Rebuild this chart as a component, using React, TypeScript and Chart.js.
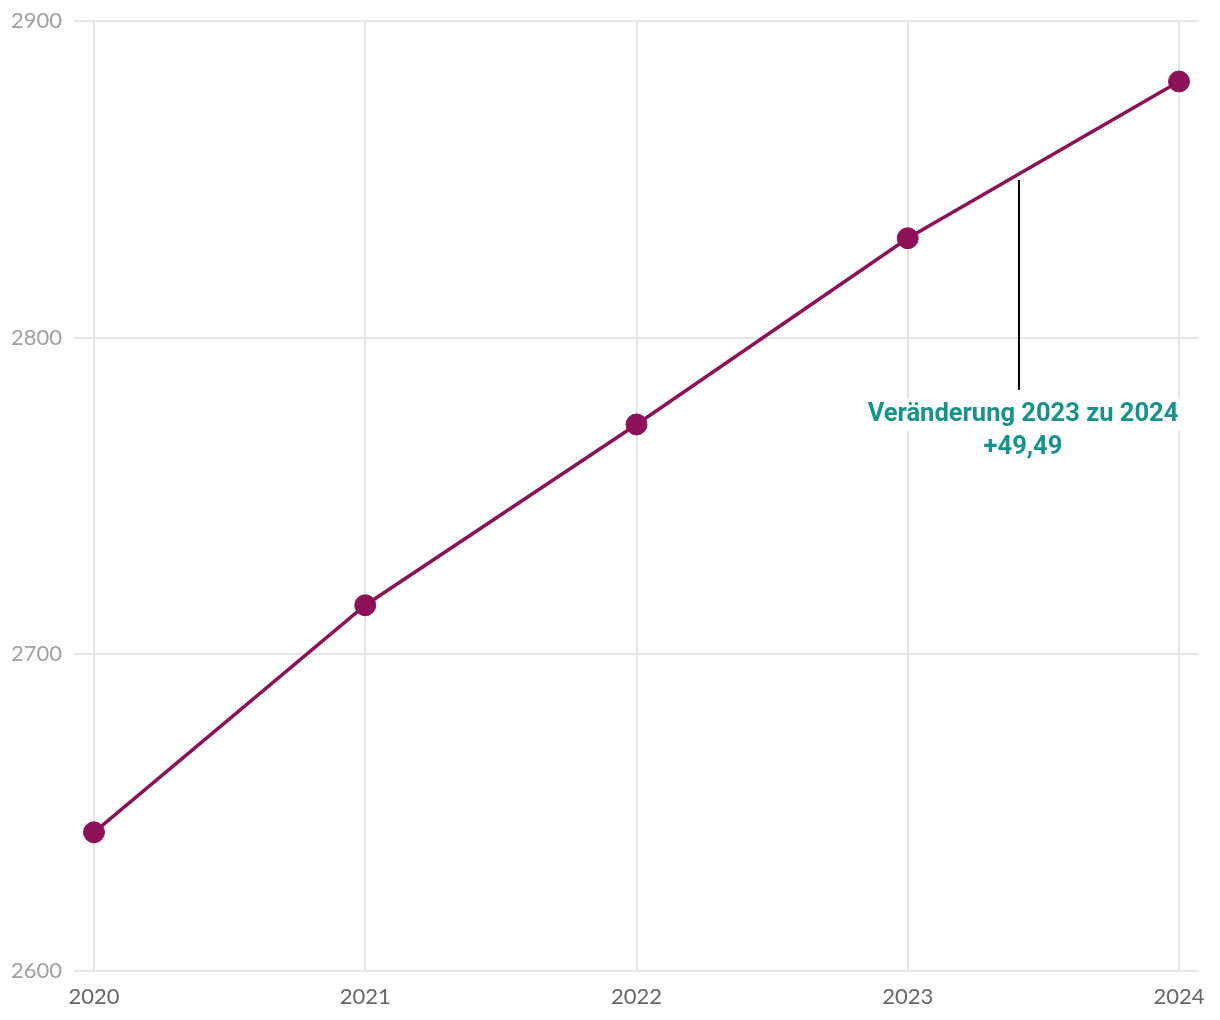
import React, { useEffect, useRef } from "react";
import { Chart, registerables } from "chart.js";

Chart.register(...registerables);

const years: number[] = [2020, 2021, 2022, 2023, 2024];
const values: number[] = [2643.8, 2715.5, 2772.6, 2831.4, 2880.9];
const yTicks: number[] = [2600, 2700, 2800, 2900];
const annotationLines: string[] = ["Veränderung 2023 zu 2024", "+49,49"];
const annotationX = 2023.41;
const annotationTop = 2849.8;
const annotationBottom = 2783.5;

const LINE_COLOR = "#8c1159";
const TEAL = "#16938d";

const annotationPlugin = {
  id: "changeAnnotation",
  afterDatasetsDraw(chart: any) {
    const { ctx, scales } = chart;
    const x = scales.x.getPixelForValue(annotationX);
    const y1 = scales.y.getPixelForValue(annotationTop);
    const y2 = scales.y.getPixelForValue(annotationBottom);
    ctx.save();
    ctx.strokeStyle = "#000000";
    ctx.lineWidth = 2;
    ctx.beginPath();
    ctx.moveTo(x, y1);
    ctx.lineTo(x, y2);
    ctx.stroke();
    ctx.font = "bold 25.5px 'Liberation Sans Narrow', Roboto, sans-serif";
    ctx.textAlign = "center";
    ctx.textBaseline = "middle";
    const cx = x + 4;
    annotationLines.forEach((t, i) => {
      const cy = y2 + 25 + i * 33;
      const w = ctx.measureText(t).width;
      ctx.fillStyle = "#ffffff";
      ctx.fillRect(cx - w / 2 - 4, cy - 16, w + 8, 32);
      ctx.fillStyle = TEAL;
      ctx.fillText(t, cx, cy);
    });
    ctx.restore();
  },
};

export default function App() {
  const ref = useRef<HTMLCanvasElement | null>(null);
  useEffect(() => {
    if (!ref.current) return;
    const chart = new Chart(ref.current, {
      type: "line",
      data: {
        datasets: [
          {
            data: years.map((y, i) => ({ x: y, y: values[i] })),
            borderColor: LINE_COLOR,
            backgroundColor: LINE_COLOR,
            borderWidth: 3.5,
            pointRadius: 10.5,
            pointBorderWidth: 1,
            pointBackgroundColor: LINE_COLOR,
            pointBorderColor: LINE_COLOR,
            tension: 0,
          },
        ],
      },
      options: {
        animation: false,
        responsive: false,
        maintainAspectRatio: false,
        layout: { padding: { top: 13, right: 13, left: 0, bottom: 0 } },
        plugins: { legend: { display: false }, tooltip: { enabled: false } },
        scales: {
          x: {
            type: "linear",
            min: 2020 - 0.0737,
            max: 2024 + 0.0737,
            afterBuildTicks: (scale: any) => {
              scale.ticks = years.map((v) => ({ value: v }));
            },
            afterFit: (scale: any) => {
              scale.height = 41;
              scale.paddingLeft = 0;
              scale.paddingRight = 0;
            },
            grid: { color: "#e6e6e6", lineWidth: 2, drawTicks: false },
            border: { display: false },
            ticks: {
              padding: 13,
              color: "#666666",
              font: { family: "Lato", size: 22 },
              callback: (v: any) => String(v),
            },
          },
          y: {
            min: 2600,
            max: 2900,
            afterBuildTicks: (scale: any) => {
              scale.ticks = yTicks.map((v) => ({ value: v }));
            },
            afterFit: (scale: any) => {
              scale.width = 66;
              scale.paddingTop = 0;
              scale.paddingBottom = 0;
            },
            grid: { color: "#e6e6e6", lineWidth: 2, drawTicks: false },
            border: { display: false },
            ticks: {
              padding: 12,
              color: "#a0a0a0",
              font: { family: "Lato", size: 22 },
              callback: (v: any) => String(v),
            },
          },
        },
      },
      plugins: [annotationPlugin],
    } as any);
    return () => chart.destroy();
  }, []);
  return (
    <div style={{ width: 1204, height: 1004 }}>
      <canvas ref={ref} width={1204} height={1004} style={{ display: "block" }} />
    </div>
  );
}
